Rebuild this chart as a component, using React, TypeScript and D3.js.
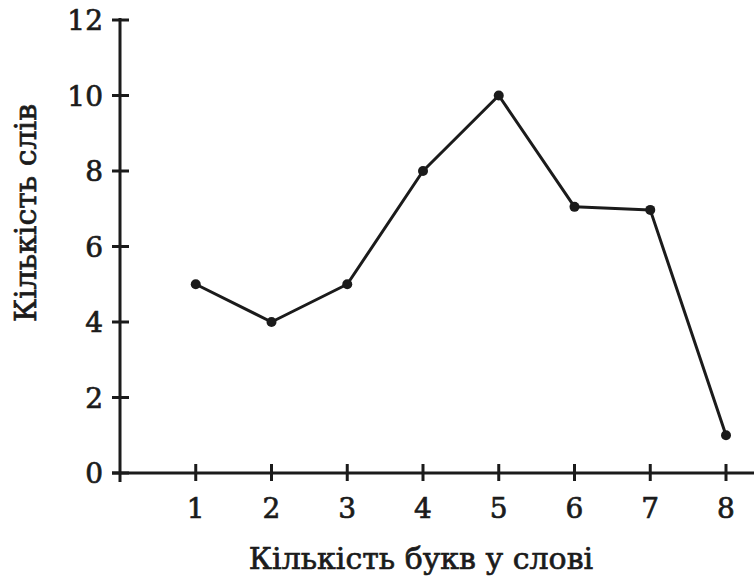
import React, { useEffect, useRef } from "react";
import * as d3 from "d3";

const letters = [1, 2, 3, 4, 5, 6, 7, 8];
const wordCounts = [5, 4, 5, 8, 10, 7.05, 6.97, 1];
const yTicks = [0, 2, 4, 6, 8, 10, 12];
const xTitle = "Кількість букв у слові";
const yTitle = "Кількість слів";

const App = () => {
  const chartRef = useRef<SVGSVGElement>(null);

  useEffect(() => {
    const svg = d3.select(chartRef.current);
    svg.selectAll("*").remove();

    const width = 754;
    const height = 578;
    const ink = "#1b1b1b";
    const font = "'DejaVu Serif', serif";

    svg.attr("width", width).attr("height", height);

    const x = d3.scaleLinear().domain([0, 8]).range([120, 726]);
    const y = d3.scaleLinear().domain([0, 12]).range([473, 20]);

    // осі
    svg.append("line")
      .attr("x1", x(0)).attr("x2", x(0))
      .attr("y1", y(12) - 2).attr("y2", y(0) + 9)
      .attr("stroke", ink).attr("stroke-width", 3);
    svg.append("line")
      .attr("x1", x(0) - 8).attr("x2", width)
      .attr("y1", y(0)).attr("y2", y(0))
      .attr("stroke", ink).attr("stroke-width", 3);

    svg.append("g")
      .selectAll("line")
      .data(yTicks)
      .enter()
      .append("line")
      .attr("x1", x(0) - 8).attr("x2", x(0) + 9)
      .attr("y1", (d) => y(d)).attr("y2", (d) => y(d))
      .attr("stroke", ink).attr("stroke-width", 3);

    svg.append("g")
      .selectAll("text")
      .data(yTicks)
      .enter()
      .append("text")
      .attr("x", 103)
      .attr("y", (d) => y(d))
      .attr("dy", "0.36em")
      .attr("text-anchor", "end")
      .attr("font-family", font)
      .attr("font-size", 28)
      .attr("fill", ink)
      .attr("stroke", ink)
      .attr("stroke-width", 0.7)
      .text((d) => d);

    svg.append("g")
      .selectAll("line")
      .data(letters)
      .enter()
      .append("line")
      .attr("x1", (d) => x(d)).attr("x2", (d) => x(d))
      .attr("y1", y(0) - 9).attr("y2", y(0) + 8)
      .attr("stroke", ink).attr("stroke-width", 3);

    svg.append("g")
      .selectAll("text")
      .data(letters)
      .enter()
      .append("text")
      .attr("x", (d) => x(d))
      .attr("y", 518)
      .attr("text-anchor", "middle")
      .attr("font-family", font)
      .attr("font-size", 28)
      .attr("fill", ink)
      .attr("stroke", ink)
      .attr("stroke-width", 0.7)
      .text((d) => d);

    // підписи осей
    svg.append("text")
      .attr("x", 421)
      .attr("y", 569)
      .attr("text-anchor", "middle")
      .attr("font-family", font)
      .attr("font-size", 30)
      .attr("fill", ink)
      .attr("stroke", ink)
      .attr("stroke-width", 0.7)
      .text(xTitle);

    svg.append("text")
      .attr("transform", "translate(36,213) rotate(-90)")
      .attr("text-anchor", "middle")
      .attr("font-family", font)
      .attr("font-size", 30)
      .attr("fill", ink)
      .attr("stroke", ink)
      .attr("stroke-width", 0.7)
      .text(yTitle);

    // ламана
    const points = letters.map((d, i) => [d, wordCounts[i]] as [number, number]);
    const line = d3.line<[number, number]>()
      .x((d) => x(d[0]))
      .y((d) => y(d[1]));

    svg.append("path")
      .datum(points)
      .attr("d", line)
      .attr("fill", "none")
      .attr("stroke", ink)
      .attr("stroke-width", 3)
      .attr("stroke-linejoin", "round");

    svg.append("g")
      .selectAll("circle")
      .data(points)
      .enter()
      .append("circle")
      .attr("cx", (d) => x(d[0]))
      .attr("cy", (d) => y(d[1]))
      .attr("r", 5)
      .attr("fill", ink);
  }, []);

  return (
    <svg
      ref={chartRef}
      style={{ position: "absolute", left: 0, top: 0, background: "#fff" }}
    ></svg>
  );
};

export default App;
